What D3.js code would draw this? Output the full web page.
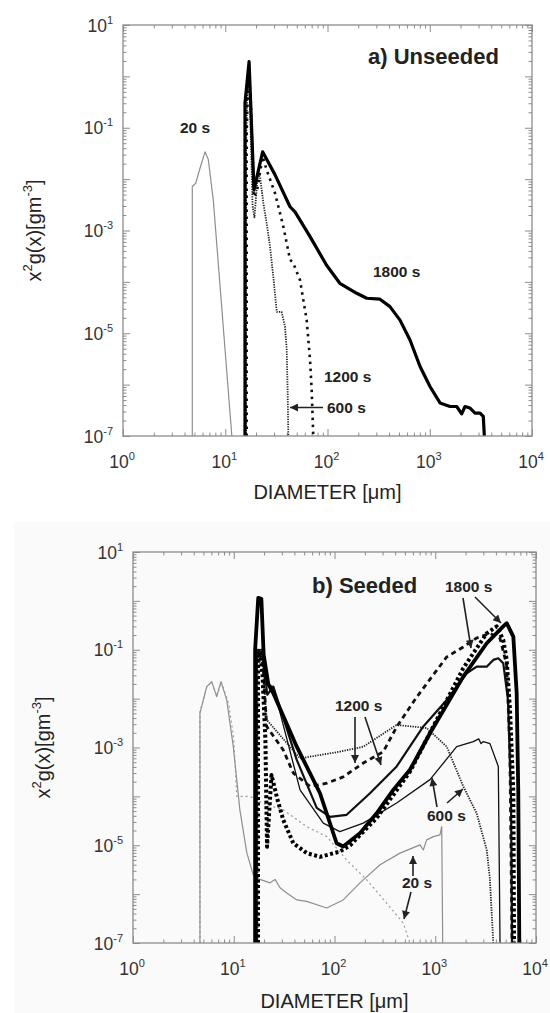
<!DOCTYPE html>
<html><head><meta charset="utf-8">
<script src="https://cdn.jsdelivr.net/npm/d3@7"></script>
<style>body{margin:0;background:#fff}svg{display:block}text{font-family:"Liberation Sans",Arial,sans-serif}</style>
</head><body><svg id="c" width="550" height="1013"></svg>
<script>
// ---------------- DATA (diameter µm, x²g(x) g·m⁻³) ----------------
const xTickExps = [0, 1, 2, 3, 4];
const yTickExps = [1, -1, -3, -5, -7];

// a) Unseeded
const top20s = [[4.76,1e-7],[4.76,7.1e-3],[5.14,8.3e-3],[5.7,0.017],[6.34,0.034],[6.83,0.024],[7.64,3.9e-3],[11.6,1e-7]];
const top600s = [[16.0,1e-7],[16.0,0.05],[16.6,0.9],[17.3,0.5],[18.5,3e-3],[19.3,1.8e-3],[20.8,0.012],[21.9,0.0112],[23.6,3.4e-3],[25.4,1.39e-3],[27.4,4.9e-4],[29.5,1.27e-4],[31.9,2.6e-5],[35.6,2.6e-5],[38.4,1.35e-5],[39.9,4.75e-6],[40.8,6.8e-7],[41.4,1e-7]];
const top1200s = [[16.2,1e-7],[16.2,0.08],[16.9,1.4],[17.8,0.3],[19.0,4.5e-3],[20.5,6e-3],[23.2,0.0274],[25.4,0.0151],[30.7,5.3e-3],[37.0,1.19e-3],[43.0,2.7e-4],[46.3,2.3e-4],[53.8,1.09e-4],[62.6,1.8e-5],[67.5,3.0e-6],[70,8e-7],[72.6,1e-7]];
const top1800s = [[15.6,1e-7],[15.6,0.3],[17.1,1.93],[19.1,6.2e-3],[23.2,0.034],[30.7,0.0121],[43,2.9e-3],[48.1,2.3e-3],[67.5,7.6e-4],[98,2.1e-4],[132,9.4e-5],[193,6.0e-5],[242,4.8e-5],[326,4.6e-5],[408,3.3e-5],[512,1.8e-5],[641,7.4e-6],[804,2.25e-6],[1005,9.2e-7],[1260,4.4e-7],[1578,3.75e-7],[1835,3.75e-7],[2053,2.7e-7],[2212,3.75e-7],[2476,3.5e-7],[2773,2.8e-7],[3100,2.8e-7],[3340,2.4e-7],[3418,1e-7]];

// b) Seeded
const bot20sA = [[4.62,1e-7],[4.62,5.0e-3],[5.39,0.0176],[6.04,0.0223],[6.77,0.011],[7.47,0.0223],[8.51,9.4e-3],[9.9,1.04e-3],[11.5,5.3e-5],[13.5,6.9e-6],[15.6,2.5e-6],[18.2,2.0e-6],[22.9,1.7e-6],[25.7,2.0e-6],[28.8,1.35e-6],[33.6,1.05e-6],[42.2,7.6e-7],[53,7.1e-7],[83.7,5.2e-7],[122,7.6e-7],[179,1.7e-6],[283,4.0e-6],[447,6.9e-6],[706,1.02e-5],[761,8.0e-6],[822,1.29e-5],[957,1.5e-5],[1114,1.63e-5],[1159,2.4e-5],[1186,1e-7]];
const bot20sB = [[4.62,1e-7],[4.62,5.5e-3],[5.4,0.017],[6.04,0.022],[6.8,0.011],[7.5,0.022],[8.9,8e-3],[10.0,1.5e-3],[10.7,1.0e-4],[14.5,1.0e-4],[20,7e-5],[31,5.3e-5],[53,2.4e-5],[84,1.5e-5],[132,5.0e-6],[209,1.96e-6],[330,6.5e-7],[482,2.55e-7],[561,1e-7]];
const bot600sA = [[17.0,1e-7],[17.0,0.05],[17.6,0.1],[19.0,0.1],[20.5,0.02],[24.7,0.0176],[45.5,1.36e-4],[77.4,2.83e-5],[113,1.9e-5],[193,2.83e-5],[414,7.3e-5],[887,2.2e-4],[1632,1.04e-3],[2388,1.32e-3],[2700,1.5e-3],[2850,1.2e-3],[3000,1.32e-3],[3491,1.2e-3],[4225,4.1e-4],[4395,1e-7]];
const bot600sB = [[17.2,1e-7],[17.2,0.05],[17.8,0.1],[19.0,0.1],[21.2,3.7e-3],[45.5,6.0e-4],[113,8.2e-4],[193,1.04e-3],[414,2.9e-3],[822,2.5e-3],[1300,1.04e-3],[1897,1.6e-4],[2578,4.5e-5],[3243,8.0e-6],[3491,2.0e-6],[3767,1e-7]];
const bot1200sA = [[16.6,1e-7],[16.6,0.05],[17.4,0.1],[19.5,0.08],[21.5,0.012],[24.7,0.0176],[42.2,5.6e-4],[66.6,5.8e-5],[90.2,3.8e-5],[132,4.2e-5],[225,1.16e-4],[414,4.1e-4],[761,2.7e-3],[1300,9.4e-3],[2052,0.033],[2578,0.045],[3243,0.045],[3767,0.062],[4225,0.067],[4732,0.053],[5272,9.4e-3],[5650,8.5e-5],[5780,1e-7]];
const bot1200sB = [[16.8,1e-7],[16.8,0.05],[17.6,0.1],[19.5,0.05],[21.2,2.7e-3],[31,8.9e-4],[39,3.0e-4],[57.1,1.6e-4],[84,1.86e-4],[122,2.5e-4],[193,4.8e-4],[305,8.2e-4],[414,2.64e-3],[655,0.0108],[1300,0.0713],[1897,0.114],[2578,0.174],[3491,0.217],[4395,0.17],[5100,0.05],[5500,1e-3],[5780,1e-7]];
const bot1800sA = [[16.3,1e-7],[16.3,0.1],[17.5,1.15],[18.8,1.1],[19.8,0.08],[22,0.02],[24.7,0.0129],[42.2,1.04e-3],[71.8,1.16e-4],[105,1.1e-5],[122,9.4e-6],[179,1.77e-5],[262,4.5e-5],[383,1.36e-4],[561,3.5e-4],[887,1.96e-3],[1897,0.0282],[3243,0.136],[4732,0.30],[5117,0.35],[5957,0.185],[6430,0.0129],[6670,1.16e-4],[6827,1e-7]];
const bot1800sB = [[17.4,1e-7],[17.4,0.05],[18.2,0.09],[19.3,0.03],[20.6,1.5e-3],[21.4,9.3e-6],[23.7,2.75e-4],[27,9e-5],[31,3.3e-5],[39,1.1e-5],[53,6.9e-6],[71.8,5.8e-6],[113,7.4e-6],[143,1.0e-5],[262,3.6e-5],[561,3.2e-4],[1897,0.042],[3243,0.217],[4074,0.30],[4732,0.158],[5117,0.062],[5521,5.9e-3],[5957,1.17e-4],[6050,1e-7]];

// ---------------- STYLES ----------------
const styles = {
  gray:    {stroke:"#8e8e8e", width:1.2, dash:null},
  grayDot: {stroke:"#9a9a9a", width:1.2, dash:"2,3"},
  thin:    {stroke:"#111", width:1.3, dash:null},
  fineDot: {stroke:"#222", width:1.8, dash:"1.3,1.2"},
  dot:     {stroke:"#111", width:2.6, dash:"2.5,4.5"},
  medium:  {stroke:"#111", width:2.2, dash:null},
  dashed:  {stroke:"#111", width:2.8, dash:"5,4"},
  thick:   {stroke:"#000", width:3.2, dash:null},
  thicker: {stroke:"#000", width:3.8, dash:null},
  thickDot:{stroke:"#000", width:4, dash:"3,2.5"}
};

const svg = d3.select("#c");
const defs = svg.append("defs");
defs.append("marker").attr("id","arr").attr("viewBox","0 0 10 10").attr("refX",10).attr("refY",5)
  .attr("markerWidth",9).attr("markerHeight",8).attr("markerUnits","userSpaceOnUse").attr("orient","auto")
  .append("path").attr("d","M0,0L10,5L0,10z").attr("fill","#222");

// light background of lower figure
svg.append("rect").attr("x",14).attr("y",522).attr("width",536).attr("height",491).attr("fill","#fafafa");

function supText(sel, base, sup, baseSize, supSize) {
  sel.append("tspan").text(base);
  sel.append("tspan").attr("font-size", supSize).attr("dy", -baseSize*0.45).text(sup);
}

function drawPanel(cfg) {
  const b = cfg.box;
  const x = d3.scaleLog().domain([1, 1e4]).range([b.l, b.r]);
  const y = d3.scaleLog().domain([1e-7, 10]).range([b.b, b.t]);
  const g = svg.append("g");
  const axC = "#8c8c8c";

  const majorX = d3.range(0, 5).map(e => Math.pow(10, e));
  const minorX = [];
  d3.range(0, 4).forEach(e => d3.range(2, 10).forEach(k => minorX.push(k * Math.pow(10, e))));
  const majorY = d3.range(-7, 2).map(e => Math.pow(10, e));
  const minorY = [];
  d3.range(-7, 1).forEach(e => d3.range(2, 10).forEach(k => minorY.push(k * Math.pow(10, e))));

  function st(s) { s.select(".domain").remove(); s.selectAll("line").attr("stroke", axC).attr("stroke-width", 1); }
  const axes = [
    [d3.axisBottom(x), `translate(0,${b.b})`, majorX, minorX],
    [d3.axisTop(x), `translate(0,${b.t})`, majorX, minorX],
    [d3.axisLeft(y), `translate(${b.l},0)`, majorY, minorY],
    [d3.axisRight(y), `translate(${b.r},0)`, majorY, minorY]
  ];
  axes.forEach(([ax, tr, maj, min]) => {
    g.append("g").attr("transform", tr).call(ax.tickValues(maj).tickSize(-7).tickFormat("")).call(st);
    g.append("g").attr("transform", tr).call(ax.tickValues(min).tickSize(-3.5).tickFormat("")).call(st);
  });

  const cid = "clip" + cfg.name;
  g.append("clipPath").attr("id", cid).append("rect")
    .attr("x", b.l).attr("y", b.t).attr("width", b.r - b.l).attr("height", b.b - b.t);

  const line = d3.line().x(d => x(d[0])).y(d => y(d[1]));
  const lines = g.append("g").attr("clip-path", `url(#${cid})`);
  cfg.series.forEach(s => {
    const stl = styles[s.style];
    lines.append("path").attr("d", line(s.data)).attr("fill", "none")
      .attr("stroke", stl.stroke).attr("stroke-width", stl.width)
      .attr("stroke-dasharray", stl.dash).attr("stroke-linejoin", "round");
  });

  g.append("rect").attr("x", b.l).attr("y", b.t).attr("width", b.r - b.l).attr("height", b.b - b.t)
    .attr("fill", "none").attr("stroke", axC).attr("stroke-width", 1.3);

  // tick labels
  xTickExps.forEach(e => {
    const t = g.append("text").attr("x", x(Math.pow(10, e)) - 1).attr("y", b.b + 32)
      .attr("text-anchor", "middle").attr("font-size", 17.5).attr("fill", "#333");
    supText(t, "10", String(e), 17.5, 11);
  });
  yTickExps.forEach(e => {
    const t = g.append("text").attr("x", b.l - 10).attr("y", y(Math.pow(10, e)) + 6.5)
      .attr("text-anchor", "end").attr("font-size", 17.5).attr("fill", "#333");
    supText(t, "10", String(e), 17.5, 11);
  });

  // axis titles
  g.append("text").attr("x", (b.l + b.r) / 2).attr("y", b.b + cfg.xtDy).attr("text-anchor", "middle")
    .attr("font-size", 20).attr("fill", "#222").text("DIAMETER [μm]");
  const yt = g.append("text").attr("transform", `translate(${cfg.ytX},${(b.t + b.b) / 2}) rotate(-90)`)
    .attr("text-anchor", "middle").attr("font-size", 20).attr("fill", "#222");
  yt.append("tspan").text("x");
  yt.append("tspan").attr("font-size", 13).attr("dy", -9).text("2");
  yt.append("tspan").attr("dy", 9).text("g(x)[gm");
  yt.append("tspan").attr("font-size", 13).attr("dy", -9).text("-3");
  yt.append("tspan").attr("dy", 9).text("]");

  // annotations
  cfg.notes.forEach(n => {
    g.append("text").attr("x", n.x).attr("y", n.y).attr("font-size", n.size).attr("font-weight", "bold")
      .attr("fill", "#222").text(n.t);
  });
  cfg.arrows.forEach(a => {
    g.append("line").attr("x1", a[0]).attr("y1", a[1]).attr("x2", a[2]).attr("y2", a[3])
      .attr("stroke", "#222").attr("stroke-width", 1.6).attr("marker-end", "url(#arr)");
  });
}

drawPanel({
  name: "a", box: {l: 123, r: 532, t: 25, b: 436}, xtDy: 63, ytX: 41,
  series: [
    {data: top20s, style: "gray"},
    {data: top600s, style: "fineDot"},
    {data: top1200s, style: "dot"},
    {data: top1800s, style: "thick"}
  ],
  notes: [
    {t: "a) Unseeded", x: 368, y: 64, size: 22},
    {t: "20 s", x: 180, y: 133, size: 15.5},
    {t: "1800 s", x: 373, y: 277, size: 15.5},
    {t: "1200 s", x: 324, y: 382, size: 15.5},
    {t: "600 s", x: 327, y: 413, size: 15.5}
  ],
  arrows: [[323, 407.5, 290, 407.5]]
});

drawPanel({
  name: "b", box: {l: 133, r: 536, t: 552, b: 943}, xtDy: 65, ytX: 50,
  series: [
    {data: bot20sA, style: "gray"},
    {data: bot20sB, style: "grayDot"},
    {data: bot600sA, style: "thin"},
    {data: bot600sB, style: "fineDot"},
    {data: bot1200sA, style: "medium"},
    {data: bot1200sB, style: "dashed"},
    {data: bot1800sB, style: "thickDot"},
    {data: bot1800sA, style: "thicker"}
  ],
  notes: [
    {t: "b) Seeded", x: 312, y: 593, size: 22},
    {t: "1800 s", x: 445, y: 592, size: 15.5},
    {t: "1200 s", x: 335, y: 711, size: 15.5},
    {t: "600 s", x: 427, y: 821, size: 15.5},
    {t: "20 s", x: 402, y: 888, size: 15.5}
  ],
  arrows: [
    [463, 598, 471, 648], [475, 597, 501, 623],
    [355, 717, 355, 763], [365, 717, 381, 765],
    [437, 807, 432, 778], [447, 803, 463, 789],
    [413, 876, 413, 856], [411, 892, 404, 919]
  ]
});
</script>
</body></html>
